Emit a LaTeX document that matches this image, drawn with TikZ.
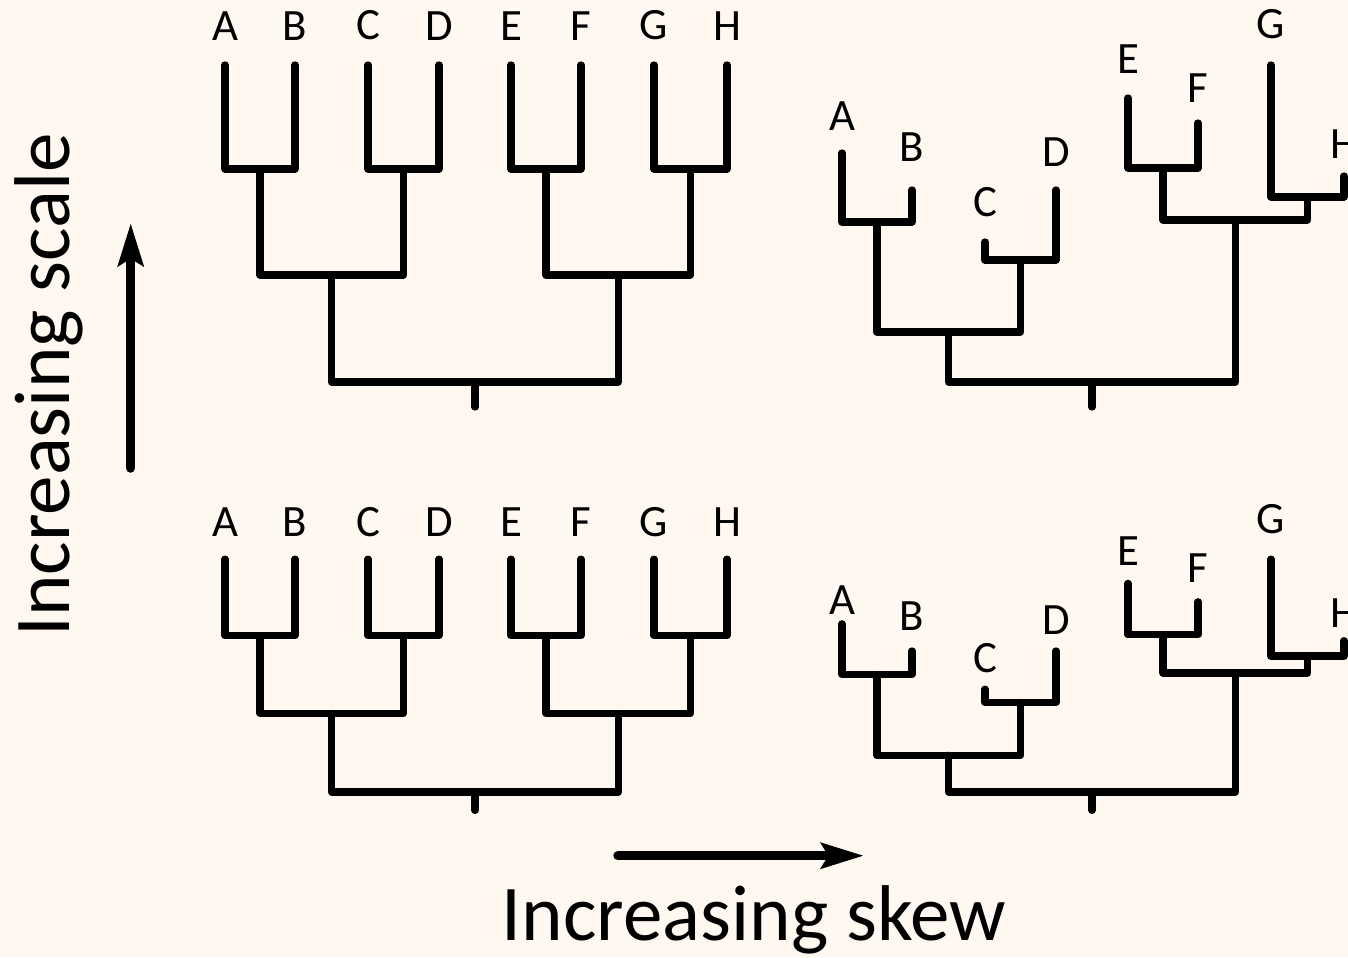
\documentclass[tikz,border=0pt]{standalone}
\usepackage{fontspec}
\setmainfont{Carlito}
\usepackage{tikz}
\usetikzlibrary{arrows.meta}
\definecolor{mycream}{RGB}{254,248,241}
\definecolor{mydark}{RGB}{0,0,0}
\tikzset{
  branch/.style={line width=0.145cm, color=mydark, line cap=round, line join=round},
  leaflabel/.style={font=\fontsize{25.5}{28}\selectfont, text=mydark, inner sep=0pt},
  axislabel/.style={font=\fontsize{45}{50}\selectfont, text=mydark, inner sep=0pt},
  axisarrow/.style={-{Stealth[length=0.85cm, width=0.5cm, inset=0.14cm]},
    line width=0.19cm, line cap=round, color=mydark}
}

% branches of one eight-leaf tree, names come from the scope's prefix
\newcommand{\drawclade}{%
  \draw[branch] (A) |- (AB) -| (B);
  \draw[branch] (C) |- (CD) -| (D);
  \draw[branch] (E) |- (EF) -| (F);
  \draw[branch] (G) |- (GH) -| (H);
  \draw[branch] (AB) |- (ABCD) -| (CD);
  \draw[branch] (EF) |- (EFGH) -| (GH);
  \draw[branch] (ABCD) |- (root) -| (EFGH);
  \draw[branch] (root) -- (stem);
}

\begin{document}
\begin{tikzpicture}[x=0.02cm, y=-0.02cm]
  \fill[mycream] (0,0) rectangle (1348,957);
  \useasboundingbox (0,0) rectangle (1348,957);

  % balanced trees, left column
  \foreach \pre/\ry/\yu/\dl in {tl/382/0.02cm/0.49cm, bl/792/0.0147cm/0.45cm} {
    \begin{scope}[name prefix=\pre-, shift={(476,\ry)}, y=\yu]
      \foreach \n/\x in {A/-251, B/-181, C/-108, D/-37, E/35, F/105, G/178, H/251} {
        \coordinate (\n) at (\x,317);
        \node[leaflabel, above=\dl] (lab\n) at (\n) {\n};
      }
      \coordinate (AB) at (-216,213);
      \coordinate (CD) at (-72.5,213);
      \coordinate (EF) at (70,213);
      \coordinate (GH) at (214.5,213);
      \coordinate (ABCD) at (-144.25,107);
      \coordinate (EFGH) at (142.25,107);
      \coordinate (root) at (-1,0);
      \coordinate (stem) at (-1,-25);
      \drawclade
    \end{scope}
  }

  % skewed trees, right column
  \foreach \pre/\ry/\yu in {tr/382/0.02cm, br/792/0.0147cm} {
    \begin{scope}[name prefix=\pre-, shift={(1093,\ry)}, y=\yu]
      \foreach \n/\x/\h in {A/-251/229, B/-181/192, C/-108/140, D/-37/192,
                            E/35/284, F/105/259, G/178/317, H/251/206}
        \coordinate (\n) at (\x,\h);
      \coordinate (AB) at (-216,160);
      \coordinate (CD) at (-72.5,122);
      \coordinate (ABCD) at (-144.25,50);
      \coordinate (EF) at (70,214);
      \coordinate (GH) at (214.5,185);
      \coordinate (EFGH) at (142.25,162);
      \coordinate (root) at (-1,0);
      \coordinate (stem) at (-1,-25);
      \drawclade
    \end{scope}
  }
  \foreach \n/\dt/\db in {A/0.44/0.18, B/0.56/0.40, C/0.50/0.33, D/0.46/0.32,
                          E/0.48/0.36, F/0.41/0.38, G/0.51/0.49, H/0.34/0.26} {
    \node[leaflabel, above=\dt cm] (tr-lab\n) at (tr-\n) {\n};
    \node[leaflabel, above=\db cm] (br-lab\n) at (br-\n) {\n};
  }

  % axes
  \coordinate (scaletail) at (130.7,468);
  \coordinate (scaletip) at (130.7,223);
  \draw[axisarrow] (scaletail) -- (scaletip);
  \node[axislabel, rotate=90, anchor=base] (scalelabel) at (69,385) {Increasing scale};

  \coordinate (skewtail) at (618,855.7);
  \coordinate (skewtip) at (864,855.7);
  \draw[axisarrow] (skewtail) -- (skewtip);
  \node[axislabel, anchor=base] (skewlabel) at (754,940) {Increasing skew};
\end{tikzpicture}
\end{document}
